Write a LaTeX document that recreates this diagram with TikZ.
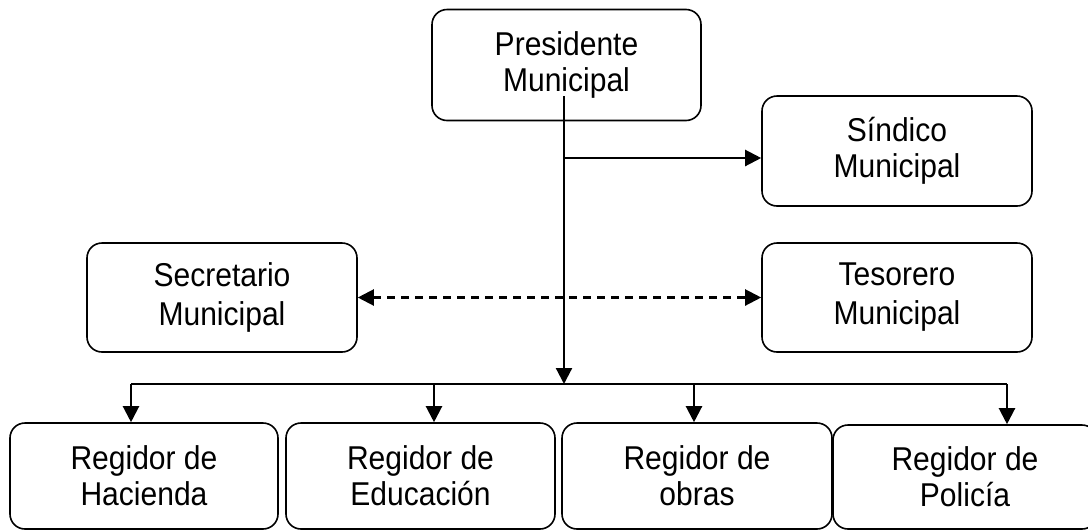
\documentclass[tikz,border=0pt]{standalone}
\usepackage{fontspec}
\setmainfont[FakeStretch=0.91]{Liberation Sans}
\usetikzlibrary{arrows.meta}

\tikzset{
  box/.style={draw, rounded corners=15pt, line width=1.6pt, align=center,
    font=\fontsize{33}{36}\selectfont},
  midbox/.style={box, font=\fontsize{33}{39}\selectfont},
  lowbox/.style={box, font=\fontsize{33}{36}\selectfont},
  conn/.style={line width=2.2pt, -{Triangle[length=16pt,width=16pt]}},
}

\begin{document}
\begin{tikzpicture}[x=1pt, y=-1pt]
        \useasboundingbox (0,0) rectangle (1088,531);
        \clip (0,0) rectangle (1088,531);

        \node[box, minimum width=269pt, minimum height=111pt] (pres) at (566.5, 65) {Presidente\\Municipal};
        \node[box, minimum width=270pt, minimum height=110pt] (sind) at (897, 151) {Síndico\\Municipal};
        \node[midbox, minimum width=270pt, minimum height=109pt] (secr) at (222, 297.5) {Secretario\\Municipal};
        \node[midbox, minimum width=270pt, minimum height=109pt] (teso) at (897, 297.5) {Tesorero\\Municipal};

        \node[lowbox, minimum width=268pt, minimum height=106pt] (haci) at (144, 476) {Regidor de\\Hacienda};
        \node[lowbox, minimum width=269pt, minimum height=106pt] (educ) at (420.5, 476) {Regidor de\\Educación};
        \node[lowbox, minimum width=270pt, minimum height=106pt] (obra) at (697, 476) {Regidor de\\obras};
        \node[lowbox, minimum width=264pt, minimum height=104pt] (poli) at (965, 477) {Regidor de\\Policía};

        \coordinate (top) at (564, 96);
        \coordinate (mid) at (564, 158);
        \coordinate (bus) at (564, 384);
        \coordinate (h) at (131, 384);
        \coordinate (e) at (434, 384);
        \coordinate (o) at (694, 384);
        \coordinate (p) at (1007, 384);

        \draw[conn] (top) -- (bus);
        \draw[conn] (mid) -- (mid -| sind.west);
        \draw[line width=2.2pt, dash pattern=on 8pt off 6pt,
              {Triangle[length=16pt,width=16pt]}-{Triangle[length=16pt,width=16pt]}] (secr.east) -- (teso.west);

        \draw[line width=2.2pt] (h) -- (p);
        \draw[conn] (h) -- (h |- haci.north);
        \draw[conn] (e) -- (e |- educ.north);
        \draw[conn] (o) -- (o |- obra.north);
        \draw[conn] (p) -- (p |- poli.north);
    \end{tikzpicture}
\end{document}
